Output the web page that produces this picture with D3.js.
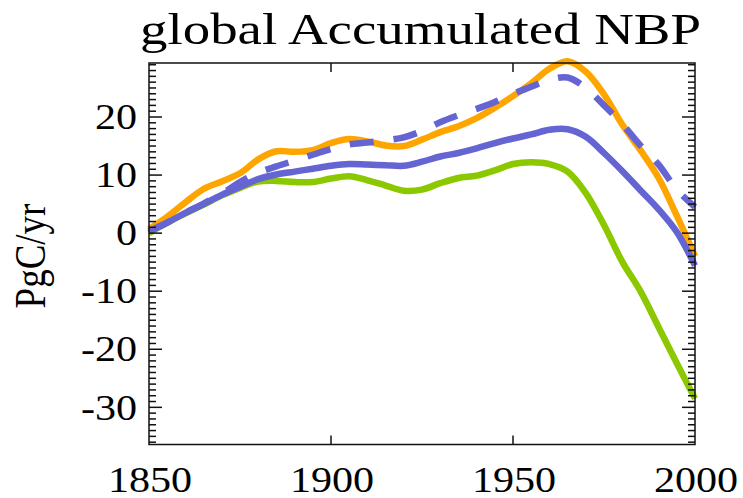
<!DOCTYPE html>
<html>
<head>
<meta charset="utf-8">
<script src="https://cdn.jsdelivr.net/npm/d3@7"></script>
<style>
  html, body { margin: 0; padding: 0; background: #fff; }
  svg { display: block; }
  text { font-family: "Liberation Serif", "DejaVu Serif", serif; fill: #000; }
</style>
</head>
<body>
<svg id="chart" width="743" height="498"></svg>
<script>
// ---- data ----
const years = [1850,1855,1860,1865,1870,1875,1880,1885,1890,1895,1900,1905,1910,1915,1920,1925,1930,1935,1940,1945,1950,1955,1960,1965,1970,1975,1980,1985,1990,1995,2000];
const orangeSeries = [0.7,2.8,5.3,7.6,8.9,10.3,12.7,14.1,14.0,14.3,15.5,16.2,15.8,15.1,15.0,16.1,17.4,18.4,19.8,21.6,23.6,25.8,28.3,29.6,27.8,23.9,18.7,14.3,9.5,3.0,-4.0];
const blueDashedSeries = [0.3,1.8,3.5,5.1,6.8,8.8,10.4,11.5,12.5,13.5,14.5,15.3,15.6,16.0,16.5,17.6,19.1,20.3,21.4,22.6,24.0,25.2,26.4,26.8,25.0,22.0,18.8,15.1,11.8,7.5,4.5];
const blueSeries = [0.3,1.8,3.5,5.0,6.6,8.0,9.3,10.1,10.6,11.1,11.6,11.9,11.8,11.7,11.6,12.3,13.2,13.8,14.6,15.5,16.3,17.0,17.8,17.9,16.6,13.8,10.7,7.4,4.1,0.2,-5.6];
const greenSeries = [0.0,1.8,3.4,4.9,6.5,7.8,8.9,9.0,8.8,8.8,9.4,9.8,9.1,8.2,7.3,7.5,8.6,9.5,9.9,10.8,11.9,12.2,11.9,10.6,6.9,1.4,-4.9,-10.0,-16.2,-22.4,-28.5];
const xTicks = [1850,1900,1950,2000];
const yTicks = [-30,-20,-10,0,10,20];
const title = "global Accumulated NBP";
const yLabel = "PgC/yr";

// ---- layout ----
const svg = d3.select("#chart");
const x = d3.scaleLinear().domain([1850, 2000]).range([149, 695]);
const y = d3.scaleLinear().domain([-36.4, 29.3]).range([444.5, 63]);
const X0 = x.range()[0], X1 = x.range()[1], Y0 = y.range()[1], Y1 = y.range()[0];
const stretch = 1.17;

// ---- series ----
const series = [
  {vals: greenSeries, color: "#8cc800", dash: null},
  {vals: orangeSeries, color: "#ffa500", dash: null},
  {vals: blueSeries, color: "#6464d2", dash: null},
  {vals: blueDashedSeries, color: "#6464d2", dash: "24,20"}
];
const line = d3.line().x(d => x(d[0])).y(d => y(d[1])).curve(d3.curveCatmullRom.alpha(0.5));
series.forEach(s => {
  svg.append("path")
    .datum(years.map((yr, i) => [yr, s.vals[i]]))
    .attr("d", line)
    .attr("fill", "none")
    .attr("stroke", s.color)
    .attr("stroke-width", 6.5)
    .attr("stroke-linejoin", "round")
    .attr("stroke-dasharray", s.dash);
});

// ---- axes box ----
const ax = svg.append("g").attr("stroke", "#111").attr("stroke-width", 1.5).attr("fill", "none");
ax.append("rect").attr("x", X0).attr("y", Y0).attr("width", X1 - X0).attr("height", Y1 - Y0);

// y ticks (minor every 1, major every 10), both sides, inward
const yMinor = d3.range(Math.ceil(y.domain()[0]), Math.floor(y.domain()[1]) + 1);
yMinor.forEach(v => {
  const len = (v % 10 === 0) ? 13 : 7;
  ax.append("line").attr("x1", X0).attr("x2", X0 + len).attr("y1", y(v)).attr("y2", y(v));
  ax.append("line").attr("x1", X1).attr("x2", X1 - len).attr("y1", y(v)).attr("y2", y(v));
});
// x major ticks top and bottom
xTicks.slice(1, -1).forEach(t => {
  ax.append("line").attr("x1", x(t)).attr("x2", x(t)).attr("y1", Y1).attr("y2", Y1 - 9);
  ax.append("line").attr("x1", x(t)).attr("x2", x(t)).attr("y1", Y0).attr("y2", Y0 + 9);
});

// ---- labels ----
const fsTick = 36;
yTicks.forEach(v => {
  svg.append("text")
    .attr("transform", `translate(137,${y(v) + 0.338 * fsTick}) scale(${stretch},1)`)
    .attr("text-anchor", "end")
    .attr("font-size", fsTick)
    .text(v);
});
xTicks.forEach(t => {
  svg.append("text")
    .attr("transform", `translate(${x(t) + 1},491.5) scale(${stretch},1)`)
    .attr("text-anchor", "middle")
    .attr("font-size", fsTick)
    .text(t);
});

svg.append("text")
  .attr("x", 140).attr("y", 43.5)
  .attr("font-size", 45)
  .attr("textLength", 561)
  .attr("lengthAdjust", "spacingAndGlyphs")
  .text(title);

svg.append("text")
  .attr("transform", `translate(45,256) scale(1.2,1) rotate(-90)`)
  .attr("text-anchor", "middle")
  .attr("font-size", 37)
  .text(yLabel);
</script>
</body>
</html>
